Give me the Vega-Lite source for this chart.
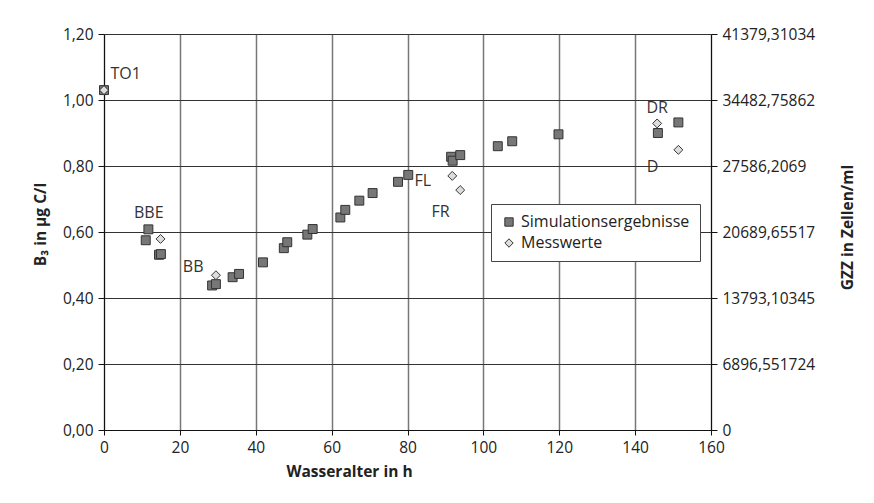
{
  "$schema": "https://vega.github.io/schema/vega-lite/v6.json",
  "width": 607,
  "height": 396,
  "autosize": "none",
  "padding": {"left": 104, "top": 34, "right": 163, "bottom": 73},
  "background": "white",
  "config": {
    "font": "Open Sans",
    "view": {"stroke": null},
    "axis": {"labelFont": "Open Sans", "labelFontSize": 15.5, "labelColor": "#222", "titleFont": "Open Sans", "titleFontSize": 15.5, "titleFontWeight": "bold", "titleColor": "#222", "domainColor": "#111", "tickColor": "#111", "tickSize": 6, "labelPadding": 5, "labelFlush": false}
  },
  "datasets": {
    "points": [
      {"alter": 0, "wert": 1.03, "serie": "Simulationsergebnisse"},
      {"alter": 11.7, "wert": 0.608, "serie": "Simulationsergebnisse"},
      {"alter": 11.0, "wert": 0.575, "serie": "Simulationsergebnisse"},
      {"alter": 14.5, "wert": 0.531, "serie": "Simulationsergebnisse"},
      {"alter": 15.0, "wert": 0.533, "serie": "Simulationsergebnisse"},
      {"alter": 28.5, "wert": 0.438, "serie": "Simulationsergebnisse"},
      {"alter": 29.5, "wert": 0.442, "serie": "Simulationsergebnisse"},
      {"alter": 33.9, "wert": 0.463, "serie": "Simulationsergebnisse"},
      {"alter": 35.6, "wert": 0.473, "serie": "Simulationsergebnisse"},
      {"alter": 41.9, "wert": 0.508, "serie": "Simulationsergebnisse"},
      {"alter": 47.4, "wert": 0.551, "serie": "Simulationsergebnisse"},
      {"alter": 48.3, "wert": 0.569, "serie": "Simulationsergebnisse"},
      {"alter": 53.6, "wert": 0.592, "serie": "Simulationsergebnisse"},
      {"alter": 55.0, "wert": 0.609, "serie": "Simulationsergebnisse"},
      {"alter": 62.3, "wert": 0.644, "serie": "Simulationsergebnisse"},
      {"alter": 63.6, "wert": 0.667, "serie": "Simulationsergebnisse"},
      {"alter": 67.3, "wert": 0.695, "serie": "Simulationsergebnisse"},
      {"alter": 70.8, "wert": 0.718, "serie": "Simulationsergebnisse"},
      {"alter": 77.5, "wert": 0.752, "serie": "Simulationsergebnisse"},
      {"alter": 80.2, "wert": 0.773, "serie": "Simulationsergebnisse"},
      {"alter": 91.5, "wert": 0.828, "serie": "Simulationsergebnisse"},
      {"alter": 91.9, "wert": 0.816, "serie": "Simulationsergebnisse"},
      {"alter": 93.9, "wert": 0.833, "serie": "Simulationsergebnisse"},
      {"alter": 103.8, "wert": 0.86, "serie": "Simulationsergebnisse"},
      {"alter": 107.6, "wert": 0.875, "serie": "Simulationsergebnisse"},
      {"alter": 119.8, "wert": 0.896, "serie": "Simulationsergebnisse"},
      {"alter": 146.0, "wert": 0.9, "serie": "Simulationsergebnisse"},
      {"alter": 151.4, "wert": 0.932, "serie": "Simulationsergebnisse"},
      {"alter": 0, "wert": 1.03, "serie": "Messwerte"},
      {"alter": 14.9, "wert": 0.579, "serie": "Messwerte"},
      {"alter": 29.5, "wert": 0.469, "serie": "Messwerte"},
      {"alter": 91.8, "wert": 0.77, "serie": "Messwerte"},
      {"alter": 93.9, "wert": 0.727, "serie": "Messwerte"},
      {"alter": 145.8, "wert": 0.929, "serie": "Messwerte"},
      {"alter": 151.4, "wert": 0.849, "serie": "Messwerte"}
    ],
    "labels": [
      {"alter": 5.7, "wert": 1.079, "text": "TO1"},
      {"alter": 11.8, "wert": 0.657, "text": "BBE"},
      {"alter": 23.5, "wert": 0.493, "text": "BB"},
      {"alter": 84.0, "wert": 0.7555, "text": "FL"},
      {"alter": 88.7, "wert": 0.6615, "text": "FR"},
      {"alter": 145.8, "wert": 0.976, "text": "DR"},
      {"alter": 144.6, "wert": 0.796, "text": "D"}
    ]
  },
  "layer": [
    {
      "data": {"name": "points"},
      "mark": {"type": "point", "filled": true, "size": 80, "stroke": "#333", "strokeWidth": 1, "opacity": 1},
      "encoding": {
        "x": {"field": "alter", "type": "quantitative", "scale": {"domain": [0, 160], "nice": false},
          "axis": {"values": [0, 20, 40, 60, 80, 100, 120, 140, 160], "title": "Wasseralter in h", "gridColor": "#777", "gridWidth": 1.5, "gridOpacity": 1, "titleX": 245, "titleY": 34, "titleAlign": "center", "titleBaseline": "top", "tickSize": 5}},
        "y": {"field": "wert", "type": "quantitative", "scale": {"domain": [0, 1.2], "nice": false},
          "axis": {"values": [0, 0.2, 0.4, 0.6, 0.8, 1.0, 1.2], "labelExpr": "replace(format(datum.value, '.2f'), '.', ',')", "title": "B₃ in µg C/l", "gridColor": "#333", "gridWidth": 1, "gridOpacity": 1, "titleX": -64, "titleY": 190, "titleAlign": "center", "titleBaseline": "middle", "titleAngle": -90}},
        "fill": {"field": "serie", "type": "nominal", "scale": {"domain": ["Simulationsergebnisse", "Messwerte"], "range": ["#777777", "#dddddd"]},
          "legend": {"title": null, "orient": "none", "legendX": 387, "legendY": 170, "strokeColor": "#444", "fillColor": "white", "padding": 10, "labelFontSize": 16, "labelLimit": 400, "labelFont": "Open Sans", "labelColor": "#222", "symbolStrokeColor": "#333", "symbolStrokeWidth": 1, "symbolSize": 70, "rowPadding": 5, "symbolOpacity": 1}},
        "shape": {"field": "serie", "type": "nominal", "scale": {"domain": ["Simulationsergebnisse", "Messwerte"], "range": ["square", "diamond"]}}
      }
    },
    {
      "data": {"name": "labels"},
      "mark": {"type": "text", "fontSize": 16, "color": "#333", "baseline": "middle", "align": "center", "font": "Open Sans"},
      "encoding": {
        "x": {"field": "alter", "type": "quantitative"},
        "y": {"field": "wert", "type": "quantitative",
          "axis": {"orient": "right", "values": [0, 0.2, 0.4, 0.6, 0.8, 1.0, 1.2], "grid": false, "labelExpr": "datum.value < 0.1 ? '0' : datum.value < 0.3 ? '6896,551724' : datum.value < 0.5 ? '13793,10345' : datum.value < 0.7 ? '20689,65517' : datum.value < 0.9 ? '27586,2069' : datum.value < 1.1 ? '34482,75862' : '41379,31034'", "labelFontSize": 15.5, "title": "GZZ in Zellen/ml", "titleAngle": -90, "titleX": 136, "titleY": 193, "titleAlign": "center", "titleBaseline": "middle"}},
        "text": {"field": "text", "type": "nominal"}
      }
    }
  ],
  "resolve": {"axis": {"y": "independent"}}
}
